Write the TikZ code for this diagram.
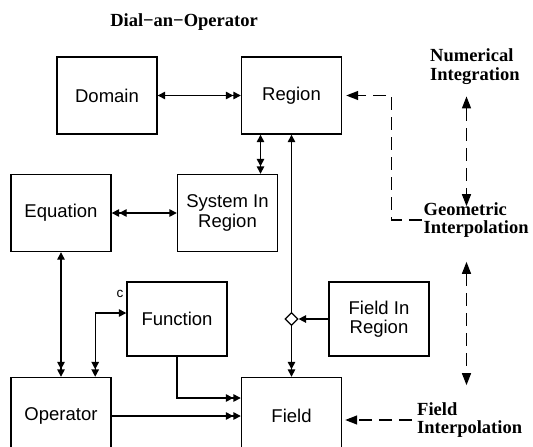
\documentclass[tikz,border=0pt]{standalone}
\usepackage{fontspec}
\setmainfont{Liberation Serif}
\setsansfont{Liberation Sans}
\usetikzlibrary{arrows.meta, positioning, shapes.geometric}

\tikzset{
  blk/.style={draw, line width=1.4pt, minimum width=100pt, minimum height=77pt, align=center, inner sep=2pt,
    font=\sffamily\fontsize{18.5}{19.5}\selectfont},
  lbl/.style={anchor=west, align=left, inner sep=0pt, font=\bfseries\fontsize{18.5}{18.5}\selectfont},
  con/.style={line width=1.4pt, >={Triangle[length=7.5pt,width=7.5pt]}},
  dsh/.style={line width=1.4pt, dash pattern=on 13pt off 7pt, >={Triangle[length=12pt,width=9pt]}},
  junc/.style={diamond, draw, fill=white, line width=1.2pt, inner sep=0pt, minimum size=13pt},
}

\begin{document}
\begin{tikzpicture}[x=1pt, y=-1pt]
    \useasboundingbox (0,0) rectangle (533,447);

    \node (title) [font=\bfseries\fontsize{18.5}{18.5}\selectfont] at (184,22) {Dial−an−Operator};

    % boxes
    \node (domain) [blk] at (107,95.5) {Domain};
    \node (region) [blk] at (291.5,95.5) {Region};
    \node (equation) [blk] at (61,213) {Equation};
    \node (sysreg) [blk] at (227.5,213) {System In\\Region};
    \node (function) [blk, minimum height=74pt] at (177,319) {Function};
    \node (fieldreg) [blk, minimum height=74pt] at (379,319) {Field In\\Region};
    \node (operator) [blk] at (61,416) {Operator};
    \node (field) [blk] at (291.5,416) {Field};
    \node (cmark) [font=\sffamily\fontsize{13.5}{13.5}\selectfont, inner sep=0pt] at (120,294) {c};
    \node (junction) [junc] at (region.south |- fieldreg.west) {};

    % labels on the right
    \node (numint) [lbl] at (430,66.5) {Numerical\\Integration};
    \node (geoint) [lbl] at (423.5,220) {Geometric\\Interpolation};
    \node (fldint) [lbl] at (417,420) {Field\\Interpolation};
    \coordinate (turn) at (391.7,95.5);
    \coordinate (vline) at (466.5,0);

    % solid connectors
    \path (domain) [con, <->>] edge (region);
    \path (equation) [con, <<->] edge (sysreg);
    \path ([xshift=-31pt]region.south) [con, <->>] edge ([xshift=-31pt]region.south |- sysreg.north);
    \path (equation) [con, <->>] edge (operator);
    \path (junction) [con, ->] edge (region);
    \path (junction) [con, ->>] edge (field);
    \path (fieldreg) [con, ->] edge (junction);
    \path (operator) [con, ->>] edge (field);
    \draw [con, <<->] ([xshift=-16.5pt]operator.north east) |- ([yshift=6pt]function.west);
    \draw [con, ->>] (function.south) |- ([yshift=18pt]field.west);

    % dashed connectors
    \draw [dsh, ->, shorten >=4pt, shorten <=2pt] (geoint.west) -| (turn) -- (region.east);
    \draw [dsh, <->, shorten <=12pt, shorten >=-4pt] (numint.south -| vline) -- (geoint.north -| vline);
    \draw [dsh, <->, shorten <=24pt, shorten >=17pt] (geoint.south -| vline) -- (fldint.north -| vline);
    \draw [dsh, ->, shorten >=3pt, shorten <=5pt] (fldint.west) -- (fldint.west -| field.east);
\end{tikzpicture}
\end{document}
